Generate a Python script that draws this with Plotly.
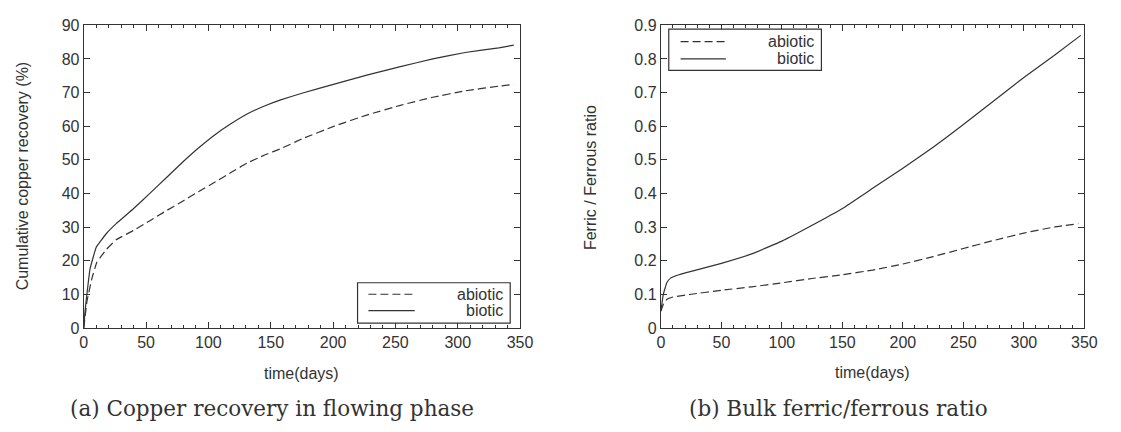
import plotly.graph_objects as go

# ---- data ----
cu_abiotic_t = [0, 2.6, 6.6, 10.5, 18, 26, 40, 53, 66, 79, 92, 105, 118, 131, 145, 158, 175, 201, 227, 254, 280, 306, 333, 345]
cu_abiotic_v = [0, 8, 14.8, 19.5, 23.3, 26.2, 29, 31.9, 34.8, 37.6, 40.5, 43.3, 46.2, 49, 51.4, 53.3, 56.2, 60.0, 63.3, 66.2, 68.6, 70.5, 71.9, 72.4]
cu_biotic_t = [0, 1, 2.5, 5, 10, 18, 26, 40, 53, 66, 79, 92, 105, 118, 131, 145, 158, 175, 201, 227, 254, 280, 306, 333, 345]
cu_biotic_v = [0, 5, 10, 17.5, 24, 28, 31, 35.5, 40, 44.6, 49.2, 53.5, 57.4, 60.7, 63.6, 66.0, 67.8, 69.8, 72.5, 75.2, 77.7, 80, 81.9, 83.3, 84.1]

fe_abiotic_t = [0, 2, 5, 10, 25, 50, 75, 100, 125, 150, 175, 200, 225, 250, 275, 300, 325, 345]
fe_abiotic_v = [0.05, 0.07, 0.085, 0.092, 0.100, 0.112, 0.122, 0.134, 0.147, 0.158, 0.172, 0.19, 0.212, 0.236, 0.26, 0.282, 0.30, 0.31]
fe_biotic_t = [0, 2, 5, 8, 15, 25, 50, 75, 100, 125, 150, 175, 200, 225, 250, 275, 300, 325, 347]
fe_biotic_v = [0.05, 0.1, 0.135, 0.148, 0.158, 0.168, 0.192, 0.22, 0.258, 0.305, 0.355, 0.415, 0.475, 0.537, 0.605, 0.675, 0.745, 0.81, 0.87]

series_names = ["abiotic", "biotic"]
x_title = "time(days)"
y_title_a = "Cumulative copper recovery (%)"
y_title_b = "Ferric / Ferrous ratio"
caption_a = "(a) Copper recovery in flowing phase"
caption_b = "(b) Bulk ferric/ferrous ratio"

# ---- layout constants (pixels) ----
W, H = 1121, 432
INK = "#333333"
LW = 1.2
DASH = "8px,4px"

def px_x(p):
    return p / W

def px_y(p):
    return (H - p) / H

fig = go.Figure()

line_styles = [dict(color=INK, width=LW, dash=DASH), dict(color=INK, width=LW)]

for (t, v), st in zip([(cu_abiotic_t, cu_abiotic_v), (cu_biotic_t, cu_biotic_v)], line_styles):
    fig.add_trace(go.Scatter(x=t, y=v, mode="lines", line=dict(st, shape="spline", smoothing=0.3),
                             showlegend=False, xaxis="x", yaxis="y", hoverinfo="skip"))
for (t, v), st in zip([(fe_abiotic_t, fe_abiotic_v), (fe_biotic_t, fe_biotic_v)], line_styles):
    fig.add_trace(go.Scatter(x=t, y=v, mode="lines", line=dict(st, shape="spline", smoothing=0.3),
                             showlegend=False, xaxis="x2", yaxis="y2", hoverinfo="skip"))

tickfont = dict(family="Liberation Sans, Arial, sans-serif", size=16, color=INK)
ydom = [px_y(333), px_y(18)]

def xaxis(dom, anchor):
    return dict(domain=dom, anchor=anchor, range=[0, 350], dtick=50, tick0=0,
                showline=True, linecolor=INK, linewidth=1.2, mirror="allticks",
                ticks="inside", ticklen=6, tickcolor=INK, tickwidth=1,
                minor=dict(ticks="inside", ticklen=3, dtick=10, tickcolor=INK, tickwidth=1),
                showgrid=False, zeroline=False, tickfont=tickfont, fixedrange=True)

def yaxis(rng, dt, anchor):
    return dict(domain=ydom, anchor=anchor, range=rng, dtick=dt, tick0=0,
                showline=True, linecolor=INK, linewidth=1.2, mirror="allticks",
                ticks="inside", ticklen=6, tickcolor=INK, tickwidth=1,
                showgrid=False, zeroline=False, tickfont=tickfont, fixedrange=True)

fig.update_layout(
    width=W, height=H, autosize=False,
    margin=dict(l=0, r=0, t=0, b=0),
    paper_bgcolor="white", plot_bgcolor="white",
    xaxis=xaxis([px_x(81), px_x(524)], "y"),
    yaxis=yaxis([0, 90], 10, "x"),
    xaxis2=xaxis([px_x(667), px_x(1097)], "y2"),
    yaxis2=yaxis([0, 0.9], 0.1, "x2"),
    showlegend=False,
)

labfont = dict(family="Liberation Sans, Arial, sans-serif", size=16, color=INK)
capfont = dict(family="DejaVu Serif, Liberation Serif, serif", size=21.5, color=INK)

ann = []
# axis titles
ann.append(dict(text=x_title, x=px_x(302), y=px_y(380), xref="paper", yref="paper",
                showarrow=False, font=labfont, xanchor="center", yanchor="middle"))
ann.append(dict(text=x_title, x=px_x(882), y=px_y(379), xref="paper", yref="paper",
                showarrow=False, font=labfont, xanchor="center", yanchor="middle"))
ann.append(dict(text=y_title_a, x=px_x(18.5), y=px_y(175), xref="paper", yref="paper",
                showarrow=False, font=labfont, textangle=-90, xanchor="center", yanchor="middle"))
ann.append(dict(text=y_title_b, x=px_x(595), y=px_y(176), xref="paper", yref="paper",
                showarrow=False, font=labfont, textangle=-90, xanchor="center", yanchor="middle"))
# captions
ann.append(dict(text=caption_a, x=px_x(272), y=px_y(417), xref="paper", yref="paper",
                showarrow=False, font=capfont, xanchor="center", yanchor="middle"))
ann.append(dict(text=caption_b, x=px_x(847), y=px_y(417), xref="paper", yref="paper",
                showarrow=False, font=capfont, xanchor="center", yanchor="middle"))

shapes = []
# manual gnuplot-style legends: (box x0, x1, y0, y1, sample x0, x1, row ys, text right x)
legends = [
    (359, 514, 286, 328, 370, 417, [298, 315], 509),
    (675, 830, 22, 65, 687, 733, [35, 53], 825),
]
for bx0, bx1, by0, by1, sx0, sx1, rows, tx in legends:
    shapes.append(dict(type="rect", xref="paper", yref="paper",
                       x0=px_x(bx0), x1=px_x(bx1), y0=px_y(by1), y1=px_y(by0),
                       line=dict(color=INK, width=1.2), fillcolor="white", layer="above"))
    for name, st, ry in zip(series_names, line_styles, rows):
        shapes.append(dict(type="line", xref="paper", yref="paper",
                           x0=px_x(sx0), x1=px_x(sx1), y0=px_y(ry), y1=px_y(ry),
                           line=st, layer="above"))
        ann.append(dict(text=name, x=px_x(tx), y=px_y(ry), xref="paper", yref="paper",
                        showarrow=False, font=labfont, xanchor="right", yanchor="middle"))

fig.update_layout(annotations=ann, shapes=shapes)

fig.write_html("out.html")
